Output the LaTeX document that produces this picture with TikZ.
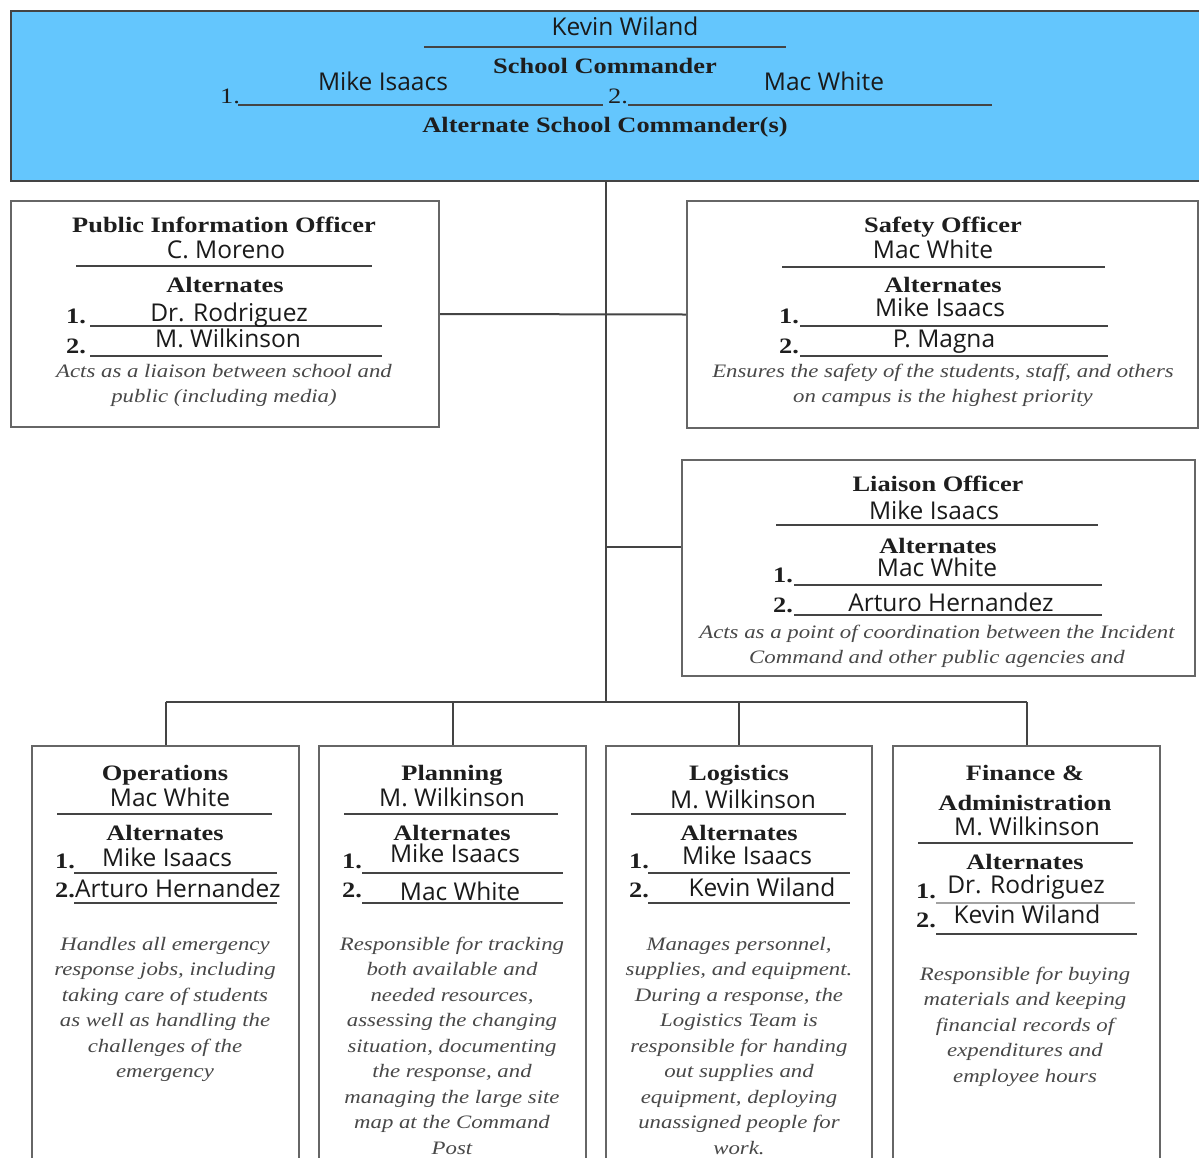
\documentclass[tikz,border=0pt]{standalone}
\usepackage{fontspec}
\setmainfont{Liberation Serif}
\newfontfamily\nmfont{Open Sans}
\newfontfamily\ttlfont[FakeStretch=1.2]{Liberation Serif}
\newfontfamily\dscfont[FakeStretch=1.2]{Liberation Serif}
\definecolor{cmdblue}{HTML}{64C6FD}
\definecolor{boxgray}{HTML}{666666}
\definecolor{conncol}{HTML}{444444}
\definecolor{rulecol}{HTML}{444444}
\definecolor{ttlcol}{HTML}{1E1E1E}
\definecolor{nmcol}{HTML}{1A1A1A}
\definecolor{dsccol}{HTML}{484848}
\tikzset{
  box/.style={draw=boxgray, line width=2pt, inner sep=0pt, anchor=north west},
  ttl/.style={font=\ttlfont\bfseries\fontsize{22}{30}\selectfont, text=ttlcol, anchor=base, inner sep=0pt},
  nm/.style={font=\nmfont\fontsize{24.5}{28}\selectfont, text=nmcol, anchor=base, inner sep=0pt},
  num/.style={font=\ttlfont\bfseries\fontsize{22}{26}\selectfont, text=ttlcol, anchor=base west, inner sep=0pt},
  numr/.style={font=\ttlfont\fontsize{22}{26}\selectfont, text=ttlcol, anchor=base west, inner sep=0pt},
  dsc/.style={font=\dscfont\itshape\fontsize{19}{25.5}\selectfont, text=dsccol, align=center, anchor=base, inner sep=0pt},
  rl/.style={draw=rulecol, line width=1.6pt},
  conn/.style={draw=conncol, line width=2pt},
}
\begin{document}
\begin{tikzpicture}[x=1pt,y=-1pt]
\useasboundingbox (0,0) rectangle (1199,1157);
\clip (0,0) rectangle (1199,1157);
\fill[white] (0,0) rectangle (1199,1157);

% ---------- boxes ----------
\node[box, fill=cmdblue, draw=conncol, minimum width=1190pt, minimum height=170pt] (cmd) at (10,10) {};
\node[box, minimum width=428pt, minimum height=226pt] (pio) at (10,200) {};
\node[box, minimum width=511pt, minimum height=227pt] (saf) at (686,200) {};
\node[box, minimum width=513pt, minimum height=216pt] (lia) at (681,459) {};
\node[box, minimum width=267pt, minimum height=430pt] (ops) at (31,745) {};
\node[box, minimum width=267pt, minimum height=430pt] (pln) at (318,745) {};
\node[box, minimum width=266pt, minimum height=430pt] (log) at (605,745) {};
\node[box, minimum width=267pt, minimum height=430pt] (fin) at (892,745) {};

% ---------- connectors ----------
\coordinate (bj) at (605,702);
\coordinate (lj) at (605,547);
\draw[conn] (cmd.south) -- (cmd.south |- bj);
\draw[conn] (pio.east) -- (saf.west);
\draw[conn] (lj) -- (lj -| lia.west);
\draw[conn] (ops.north |- bj) -- (fin.north |- bj);
\draw[conn] (ops.north |- bj) -- (ops.north);
\draw[conn] (pln.north |- bj) -- (pln.north);
\draw[conn] (log.north |- bj) -- (log.north);
\draw[conn] (fin.north |- bj) -- (fin.north);

% ---------- School Commander ----------
\node[nm] (cmdn) at (625,35) {Kevin Wiland};
\draw[rl] (424,47) -- (786,47);
\node[ttl] (cmdt) at (605,73) {School Commander};
\node[nm] (cmda1) at (383,90) {Mike Isaacs};
\node[nm] (cmda2) at (824,90) {Mac White};
\node[numr] (cmdn1) at (220,103) {1.};
\draw[rl] (238,105) -- (603,105);
\node[numr] (cmdn2) at (608,103) {2.};
\draw[rl] (628,105) -- (992,105);
\node[ttl] (cmdat) at (605,132) {Alternate School Commander(s)};

% ---------- Public Information Officer ----------
\node[ttl] (piot) at (224,232) {Public Information Officer};
\node[nm] (pion) at (226,258) {C. Moreno};
\draw[rl] (76,266) -- (372,266);
\node[ttl] (pioa) at (225,292) {Alternates};
\node[num] (pio1) at (66,323) {1.};
\draw[rl] (90,326) -- (382,326);
\node[nm] (pioa1) at (229,321) {Dr. Rodriguez};
\node[num] (pio2) at (66,353) {2.};
\draw[rl] (90,356) -- (382,356);
\node[nm] (pioa2) at (228,347) {M. Wilkinson};
\node[dsc] (piod) at (224,402.5) {Acts as a liaison between school and\\public (including media)};

% ---------- Safety Officer ----------
\node[ttl] (saft) at (943,232) {Safety Officer};
\node[nm] (safn) at (933,258) {Mac White};
\draw[rl] (782,267) -- (1105,267);
\node[ttl] (safa) at (943,292) {Alternates};
\node[num] (saf1) at (779,323) {1.};
\draw[rl] (800,326) -- (1108,326);
\node[nm] (safa1) at (940,316) {Mike Isaacs};
\node[num] (saf2) at (779,353) {2.};
\draw[rl] (800,356) -- (1108,356);
\node[nm] (safa2) at (944,347) {P. Magna};
\node[dsc] (safd) at (943,402.5) {Ensures the safety of the students, staff, and others\\on campus is the highest priority};

% ---------- Liaison Officer ----------
\node[ttl] (liat) at (938,491) {Liaison Officer};
\node[nm] (lian) at (934,519) {Mike Isaacs};
\draw[rl] (776,525) -- (1098,525);
\node[ttl] (liaa) at (938,553) {Alternates};
\node[nm] (liaa1) at (937,576) {Mac White};
\node[num] (lia1) at (773,582) {1.};
\draw[rl] (794,585) -- (1102,585);
\node[num] (lia2) at (773,612) {2.};
\draw[rl] (794,615) -- (1102,615);
\node[nm] (liaa2) at (951,611) {Arturo Hernandez};
\node[dsc] (liad) at (937,663.5) {Acts as a point of coordination between the Incident\\Command and other public agencies and};

% ---------- Operations ----------
\node[ttl] (opst) at (165,780) {Operations};
\node[nm] (opsn) at (170,806) {Mac White};
\draw[rl] (57,814) -- (272,814);
\node[ttl] (opsa) at (165,840) {Alternates};
\node[num] (ops1) at (55,868) {1.};
\node[nm] (opsa1) at (167,866) {Mike Isaacs};
\draw[rl] (74,873) -- (277,873);
\node[num] (ops2) at (55,897) {2.};
\node[nm, anchor=base west] (opsa2) at (75,897) {Arturo Hernandez};
\draw[rl] (74,903) -- (277,903);
\node[dsc] (opsd) at (165,1077.5) {Handles all emergency\\response jobs, including\\taking care of students\\as well as handling the\\challenges of the\\emergency};

% ---------- Planning ----------
\node[ttl] (plnt) at (452,780) {Planning};
\node[nm] (plnn) at (452,806) {M. Wilkinson};
\draw[rl] (344,814) -- (558,814);
\node[ttl] (plna) at (452,840) {Alternates};
\node[num] (pln1) at (342,868) {1.};
\node[nm] (plna1) at (455,862) {Mike Isaacs};
\draw[rl] (362,873) -- (563,873);
\node[num] (pln2) at (342,897) {2.};
\node[nm] (plna2) at (460,900) {Mac White};
\draw[rl] (362,903) -- (563,903);
\node[dsc] (plnd) at (452,1154) {Responsible for tracking\\both available and\\needed resources,\\assessing the changing\\situation, documenting\\the response, and\\managing the large site\\map at the Command\\Post};

% ---------- Logistics ----------
\node[ttl] (logt) at (739,780) {Logistics};
\node[nm] (logn) at (743,808) {M. Wilkinson};
\draw[rl] (631,814) -- (846,814);
\node[ttl] (loga) at (739,840) {Alternates};
\node[num] (log1) at (629,868) {1.};
\node[nm] (loga1) at (747,864) {Mike Isaacs};
\draw[rl] (648,873) -- (850,873);
\node[num] (log2) at (629,897) {2.};
\node[nm] (loga2) at (762,896) {Kevin Wiland};
\draw[rl] (648,903) -- (850,903);
\node[dsc] (logd) at (739,1154) {Manages personnel,\\supplies, and equipment.\\During a response, the\\Logistics Team is\\responsible for handing\\out supplies and\\equipment, deploying\\unassigned people for\\work.};

% ---------- Finance & Administration ----------
\node[ttl] (fint) at (1025,780) {Finance \&};
\node[ttl] (fint2) at (1025,810) {Administration};
\node[nm] (finn) at (1027,835) {M. Wilkinson};
\draw[rl] (918,843) -- (1133,843);
\node[ttl] (fina) at (1025,869) {Alternates};
\node[num] (fin1) at (916,898) {1.};
\node[nm] (fina1) at (1026,893) {Dr. Rodriguez};
\draw[rl, draw=rulecol!50] (936,903) -- (1135,903);
\node[num] (fin2) at (916,927) {2.};
\node[nm] (fina2) at (1027,923) {Kevin Wiland};
\draw[rl] (936,934) -- (1137,934);
\node[dsc] (find) at (1025,1082) {Responsible for buying\\materials and keeping\\financial records of\\expenditures and\\employee hours};
\end{tikzpicture}
\end{document}
